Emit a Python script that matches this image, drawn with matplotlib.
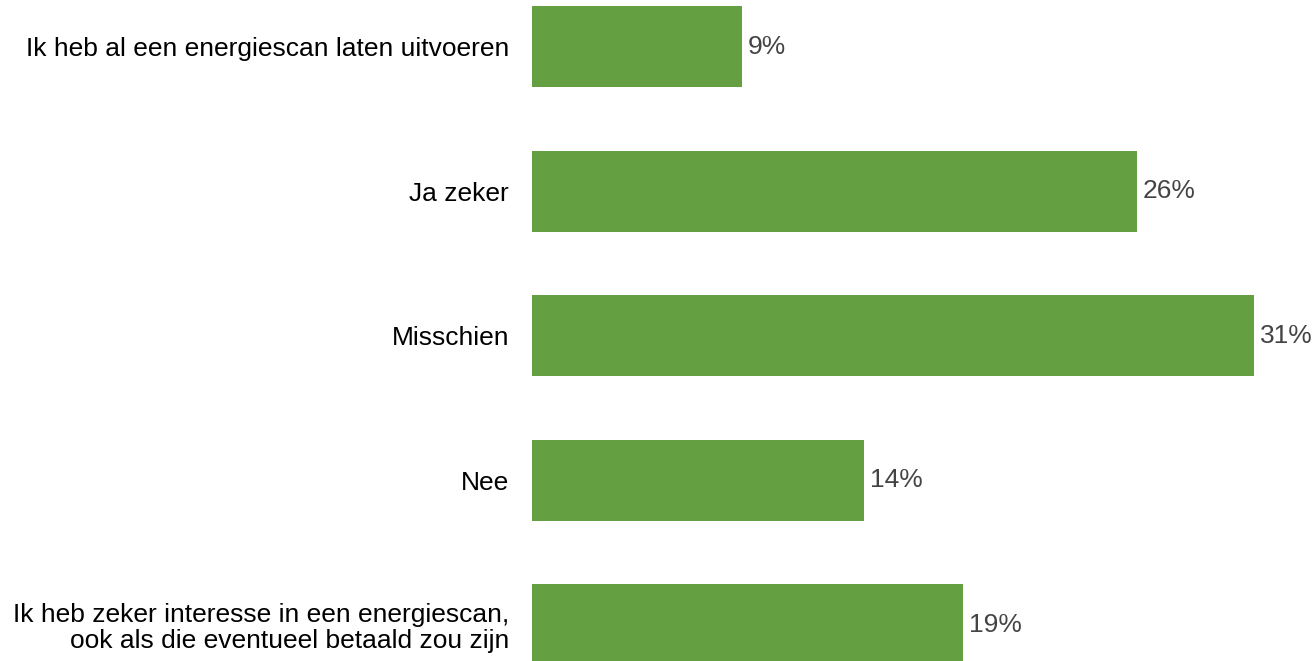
import matplotlib.pyplot as plt

categories = [
    "Ik heb al een energiescan laten uitvoeren",
    "Ja zeker",
    "Misschien",
    "Nee",
    "Ik heb zeker interesse in een energiescan,\nook als die eventueel betaald zou zijn",
]
values = [9.0, 26.0, 31.0, 14.25, 18.5]
value_labels = ["9%", "26%", "31%", "14%", "19%"]

plt.rcParams['font.family'] = ['Liberation Sans', 'DejaVu Sans']

fig = plt.figure(figsize=(13.14, 6.61), dpi=100)
ax = fig.add_axes([532 / 1314, 0, 1 - 532 / 1314, 1])

pos = list(range(len(categories)))
ax.barh(pos, values, height=0.56, color='#64a042')

for p, v, lab in zip(pos, values, value_labels):
    ax.text(v + 0.25, p, lab, va='center', ha='left', fontsize=19, color='#444444')

ax.set_yticks(pos)
ax.set_yticklabels(categories, fontsize=19, color='black', ha='right', linespacing=1.1)
ax.tick_params(axis='y', length=0, pad=16.5)
ax.set_xticks([])
ax.set_ylim(4.249, -0.3216)
ax.set_xlim(0, 33.59)
for s in ax.spines.values():
    s.set_visible(False)

fig.savefig("out.png", dpi=100)
